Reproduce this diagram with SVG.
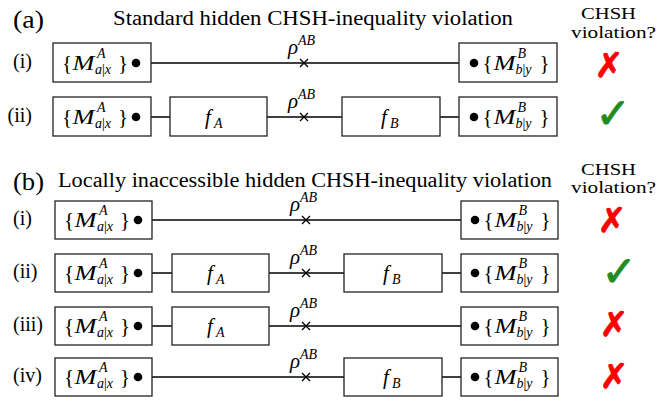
<svg xmlns="http://www.w3.org/2000/svg" width="659" height="401" viewBox="0 0 659 401">
<style>
text{fill:#000;font-family:"Liberation Serif","Times New Roman",serif}
.t{font-size:20px}
.h{font-size:26px}
.lab{font-size:20px}
.hd{font-size:16px}
.big{font-size:21px}
.it{font-style:italic}
.sm{font-size:14px}
.box{fill:#fff;stroke:#222;stroke-width:1.3}
.ln{stroke:#000;stroke-width:1.3;fill:none}
.dot{fill:#000}
.no{font-family:"DejaVu Sans",sans-serif;font-size:34px;fill:#ff0000;stroke:#ff0000;stroke-width:1;text-anchor:middle}
.yes{font-family:"DejaVu Sans",sans-serif;font-size:42px;fill:#228b22;stroke:#228b22;stroke-width:1;text-anchor:middle}
.mid{text-anchor:middle}
.end{text-anchor:end}
</style>

<!-- Headers -->
<g id="headers">
<text class="h" x="13" y="28" textLength="31" lengthAdjust="spacingAndGlyphs">(a)</text>
<text class="t" x="113" y="25" textLength="400" lengthAdjust="spacingAndGlyphs">Standard hidden CHSH-inequality violation</text>
<text class="hd mid" x="608.5" y="19" textLength="55" lengthAdjust="spacingAndGlyphs">CHSH</text>
<text class="hd mid" x="613.5" y="38" textLength="85" lengthAdjust="spacingAndGlyphs">violation?</text>
<text class="h" x="13" y="190" textLength="31" lengthAdjust="spacingAndGlyphs">(b)</text>
<text class="t" x="58" y="187" textLength="494" lengthAdjust="spacingAndGlyphs">Locally inaccessible hidden CHSH-inequality violation</text>
<text class="hd mid" x="608.5" y="175" textLength="55" lengthAdjust="spacingAndGlyphs">CHSH</text>
<text class="hd mid" x="613.5" y="193" textLength="85" lengthAdjust="spacingAndGlyphs">violation?</text>
</g>

<!-- Row labels -->
<g id="row-labels">
<text class="lab end" x="32" y="68">(i)</text>
<text class="lab end" x="32" y="122">(ii)</text>
<text class="lab" x="13" y="225">(i)</text>
<text class="lab" x="13" y="278">(ii)</text>
<text class="lab" x="13" y="331">(iii)</text>
<text class="lab" x="13" y="382">(iv)</text>
</g>

<!-- Connectors -->
<g id="connectors">
<line class="ln" x1="136" y1="63" x2="474" y2="63"/>
<line class="ln" x1="136" y1="117" x2="170" y2="117"/>
<line class="ln" x1="267" y1="117" x2="342" y2="117"/>
<line class="ln" x1="440" y1="117" x2="474" y2="117"/>
<line class="ln" x1="138" y1="220" x2="475" y2="220"/>
<line class="ln" x1="138" y1="273" x2="172" y2="273"/>
<line class="ln" x1="269" y1="273" x2="344" y2="273"/>
<line class="ln" x1="442" y1="273" x2="475" y2="273"/>
<line class="ln" x1="138" y1="326" x2="172" y2="326"/>
<line class="ln" x1="269" y1="326" x2="475" y2="326"/>
<line class="ln" x1="138" y1="377" x2="344" y2="377"/>
<line class="ln" x1="442" y1="377" x2="475" y2="377"/>
</g>

<!-- States rho^AB -->
<g id="rho-a1">
<path class="ln" d="M300 59 L308 67 M308 59 L300 67"/>
<text class="big it" x="288" y="54">ρ</text><text class="sm it" x="298" y="45">AB</text>
</g>
<g id="rho-a2">
<path class="ln" d="M300 113 L308 121 M308 113 L300 121"/>
<text class="big it" x="288" y="108">ρ</text><text class="sm it" x="298" y="99">AB</text>
</g>
<g id="rho-b1">
<path class="ln" d="M302 216 L310 224 M310 216 L302 224"/>
<text class="big it" x="290" y="211">ρ</text><text class="sm it" x="300" y="202">AB</text>
</g>
<g id="rho-b2">
<path class="ln" d="M302 269 L310 277 M310 269 L302 277"/>
<text class="big it" x="290" y="264">ρ</text><text class="sm it" x="300" y="255">AB</text>
</g>
<g id="rho-b3">
<path class="ln" d="M302 322 L310 330 M310 322 L302 330"/>
<text class="big it" x="290" y="317">ρ</text><text class="sm it" x="300" y="308">AB</text>
</g>
<g id="rho-b4">
<path class="ln" d="M302 373 L310 381 M310 373 L302 381"/>
<text class="big it" x="290" y="368">ρ</text><text class="sm it" x="300" y="359">AB</text>
</g>

<!-- Alice measurement boxes -->
<g id="alice-a1">
<rect class="box" x="53" y="43" width="98" height="39"/>
<circle class="dot" cx="136" cy="63" r="4.3"/>
<text class="big" x="62" y="70">{</text><text class="big it" x="72.5" y="70" textLength="22" lengthAdjust="spacingAndGlyphs">M</text>
<text class="sm it" x="97" y="58">A</text><text class="sm it" x="95" y="74">a<tspan font-style="normal">|</tspan>x</text>
<text class="big" x="118" y="70">}</text>
</g>
<g id="alice-a2">
<rect class="box" x="53" y="97" width="98" height="39"/>
<circle class="dot" cx="136" cy="117" r="4.3"/>
<text class="big" x="62" y="124">{</text><text class="big it" x="72.5" y="124" textLength="22" lengthAdjust="spacingAndGlyphs">M</text>
<text class="sm it" x="97" y="112">A</text><text class="sm it" x="95" y="128">a<tspan font-style="normal">|</tspan>x</text>
<text class="big" x="118" y="124">}</text>
</g>
<g id="alice-b1">
<rect class="box" x="55" y="201" width="97" height="38"/>
<circle class="dot" cx="138" cy="220" r="4.3"/>
<text class="big" x="64" y="227">{</text><text class="big it" x="74.5" y="227" textLength="22" lengthAdjust="spacingAndGlyphs">M</text>
<text class="sm it" x="99" y="215">A</text><text class="sm it" x="97" y="231">a<tspan font-style="normal">|</tspan>x</text>
<text class="big" x="120" y="227">}</text>
</g>
<g id="alice-b2">
<rect class="box" x="55" y="254" width="97" height="38"/>
<circle class="dot" cx="138" cy="273" r="4.3"/>
<text class="big" x="64" y="280">{</text><text class="big it" x="74.5" y="280" textLength="22" lengthAdjust="spacingAndGlyphs">M</text>
<text class="sm it" x="99" y="268">A</text><text class="sm it" x="97" y="284">a<tspan font-style="normal">|</tspan>x</text>
<text class="big" x="120" y="280">}</text>
</g>
<g id="alice-b3">
<rect class="box" x="55" y="307" width="97" height="38"/>
<circle class="dot" cx="138" cy="326" r="4.3"/>
<text class="big" x="64" y="333">{</text><text class="big it" x="74.5" y="333" textLength="22" lengthAdjust="spacingAndGlyphs">M</text>
<text class="sm it" x="99" y="321">A</text><text class="sm it" x="97" y="337">a<tspan font-style="normal">|</tspan>x</text>
<text class="big" x="120" y="333">}</text>
</g>
<g id="alice-b4">
<rect class="box" x="55" y="358" width="97" height="38"/>
<circle class="dot" cx="138" cy="377" r="4.3"/>
<text class="big" x="64" y="384">{</text><text class="big it" x="74.5" y="384" textLength="22" lengthAdjust="spacingAndGlyphs">M</text>
<text class="sm it" x="99" y="372">A</text><text class="sm it" x="97" y="388">a<tspan font-style="normal">|</tspan>x</text>
<text class="big" x="120" y="384">}</text>
</g>

<!-- Bob measurement boxes -->
<g id="bob-a1">
<rect class="box" x="459" y="43" width="98" height="39"/>
<circle class="dot" cx="474" cy="63" r="4.3"/>
<text class="big" x="482.5" y="70">{</text><text class="big it" x="493.5" y="70" textLength="22" lengthAdjust="spacingAndGlyphs">M</text>
<text class="sm it" x="517.5" y="58">B</text><text class="sm it" x="515.5" y="74">b<tspan font-style="normal">|</tspan>y</text>
<text class="big" x="539.5" y="70">}</text>
</g>
<g id="bob-a2">
<rect class="box" x="459" y="97" width="98" height="39"/>
<circle class="dot" cx="474" cy="117" r="4.3"/>
<text class="big" x="482.5" y="124">{</text><text class="big it" x="493.5" y="124" textLength="22" lengthAdjust="spacingAndGlyphs">M</text>
<text class="sm it" x="517.5" y="112">B</text><text class="sm it" x="515.5" y="128">b<tspan font-style="normal">|</tspan>y</text>
<text class="big" x="539.5" y="124">}</text>
</g>
<g id="bob-b1">
<rect class="box" x="461" y="201" width="97" height="38"/>
<circle class="dot" cx="475" cy="220" r="4.3"/>
<text class="big" x="483.5" y="227">{</text><text class="big it" x="494.5" y="227" textLength="22" lengthAdjust="spacingAndGlyphs">M</text>
<text class="sm it" x="518.5" y="215">B</text><text class="sm it" x="516.5" y="231">b<tspan font-style="normal">|</tspan>y</text>
<text class="big" x="540.5" y="227">}</text>
</g>
<g id="bob-b2">
<rect class="box" x="461" y="254" width="97" height="38"/>
<circle class="dot" cx="475" cy="273" r="4.3"/>
<text class="big" x="483.5" y="280">{</text><text class="big it" x="494.5" y="280" textLength="22" lengthAdjust="spacingAndGlyphs">M</text>
<text class="sm it" x="518.5" y="268">B</text><text class="sm it" x="516.5" y="284">b<tspan font-style="normal">|</tspan>y</text>
<text class="big" x="540.5" y="280">}</text>
</g>
<g id="bob-b3">
<rect class="box" x="461" y="307" width="97" height="38"/>
<circle class="dot" cx="475" cy="326" r="4.3"/>
<text class="big" x="483.5" y="333">{</text><text class="big it" x="494.5" y="333" textLength="22" lengthAdjust="spacingAndGlyphs">M</text>
<text class="sm it" x="518.5" y="321">B</text><text class="sm it" x="516.5" y="337">b<tspan font-style="normal">|</tspan>y</text>
<text class="big" x="540.5" y="333">}</text>
</g>
<g id="bob-b4">
<rect class="box" x="461" y="358" width="97" height="38"/>
<circle class="dot" cx="475" cy="377" r="4.3"/>
<text class="big" x="483.5" y="384">{</text><text class="big it" x="494.5" y="384" textLength="22" lengthAdjust="spacingAndGlyphs">M</text>
<text class="sm it" x="518.5" y="372">B</text><text class="sm it" x="516.5" y="388">b<tspan font-style="normal">|</tspan>y</text>
<text class="big" x="540.5" y="384">}</text>
</g>

<!-- Local operations f_A, f_B -->
<g id="fA-a2">
<rect class="box" x="170" y="97" width="97" height="39"/>
<text class="big it" x="205" y="124">f</text><text class="sm it" x="214" y="128">A</text>
</g>
<g id="fB-a2">
<rect class="box" x="342" y="97" width="98" height="39"/>
<text class="big it" x="381" y="124">f</text><text class="sm it" x="390" y="128">B</text>
</g>
<g id="fA-b2">
<rect class="box" x="172" y="254" width="97" height="38"/>
<text class="big it" x="207" y="280">f</text><text class="sm it" x="216" y="284">A</text>
</g>
<g id="fB-b2">
<rect class="box" x="344" y="254" width="98" height="38"/>
<text class="big it" x="383" y="280">f</text><text class="sm it" x="392" y="284">B</text>
</g>
<g id="fA-b3">
<rect class="box" x="172" y="307" width="97" height="38"/>
<text class="big it" x="207" y="333">f</text><text class="sm it" x="216" y="337">A</text>
</g>
<g id="fB-b4">
<rect class="box" x="344" y="358" width="98" height="38"/>
<text class="big it" x="383" y="384">f</text><text class="sm it" x="392" y="388">B</text>
</g>

<!-- Verdict marks -->
<g id="marks">
<text class="no" x="609" y="77">✗</text>
<text class="yes" x="613" y="128">✓</text>
<text class="no" x="612" y="232">✗</text>
<text class="yes" x="619" y="286">✓</text>
<text class="no" x="614" y="336">✗</text>
<text class="no" x="614" y="388">✗</text>
</g>
</svg>
